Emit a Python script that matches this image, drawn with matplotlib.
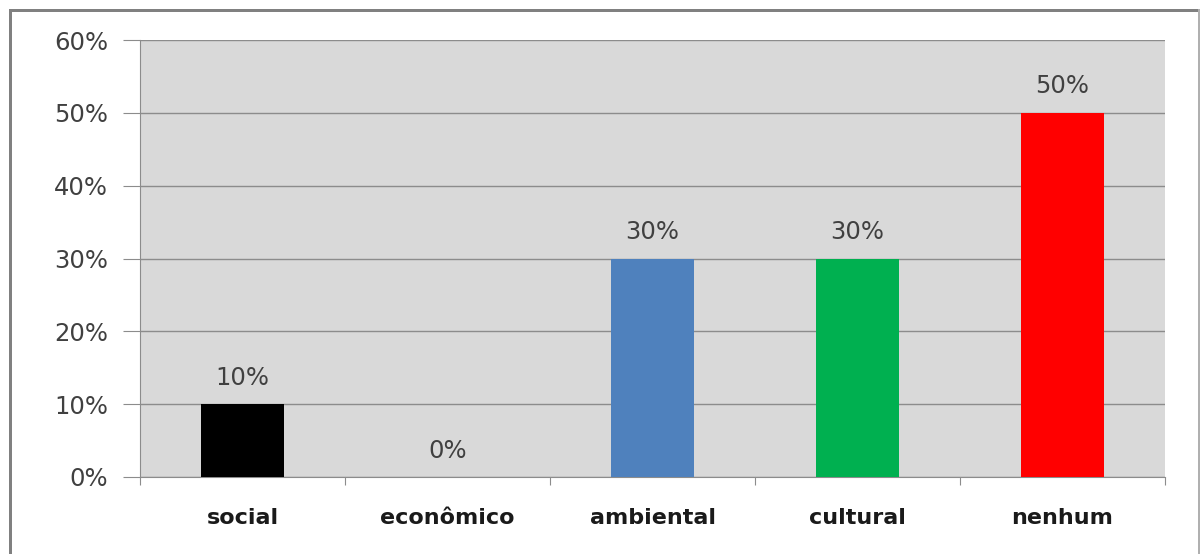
import numpy as np
import matplotlib.pyplot as plt
from matplotlib.patches import Rectangle

categories = ["social", "econômico", "ambiental", "cultural", "nenhum"]
values = [10, 0, 30, 30, 50]
bar_colors = ["#000000", "#000000", "#4f81bd", "#00b050", "#ff0000"]
yticks = [0, 10, 20, 30, 40, 50, 60]

W, H = 1201, 554
fig = plt.figure(figsize=(W / 100, H / 100), dpi=100)
ax = fig.add_axes([140 / W, 1 - 477 / H, (1165 - 140) / W, (477 - 40) / H])

x = np.arange(len(categories))
ax.bar(x, values, width=0.405, color=bar_colors, zorder=3)

ax.set_facecolor("#d9d9d9")
ax.set_xlim(-0.5, len(categories) - 0.5)
ax.set_ylim(0, 60)
ax.set_yticks(yticks)
ax.set_yticklabels([f"{v}%" for v in yticks])
ax.yaxis.grid(True, color="#8c8c8c", lw=1, zorder=1)

# category boundary ticks
ax.set_xticks(np.arange(-0.5, len(categories)), minor=False)
ax.set_xticklabels([])
ax.set_xticks(x, minor=True)
ax.set_xticklabels(categories, minor=True, fontsize=16, fontweight="bold", color="#1a1a1a")
ax.tick_params(axis="x", which="major", length=6, color="#8c8c8c")
ax.tick_params(axis="x", which="minor", length=0, pad=22)
ax.tick_params(axis="y", length=12, color="#8c8c8c", pad=11, labelsize=17.5, labelcolor="#404040")

for side in ["top", "right"]:
    ax.spines[side].set_visible(False)
for side in ["left", "bottom"]:
    ax.spines[side].set_color("#8c8c8c")

for xi, v in zip(x, values):
    ax.annotate(f"{v}%", (xi, v), xytext=(0, 19), textcoords="offset points",
                ha="center", va="center", fontsize=17.5, color="#404040")

# outer frame
fig.patches.append(Rectangle((9 / W, 0), 3 / W, 1 - 9 / H, transform=fig.transFigure,
                             color="#808080", lw=0))
fig.patches.append(Rectangle((9 / W, 1 - 12 / H), (1199 - 9) / W, 3 / H,
                             transform=fig.transFigure, color="#808080", lw=0))
fig.patches.append(Rectangle((1198 / W, 0), 1.5 / W, 1 - 9 / H, transform=fig.transFigure,
                             color="#b0b0b0", lw=0))

fig.savefig("out.png", dpi=100)
